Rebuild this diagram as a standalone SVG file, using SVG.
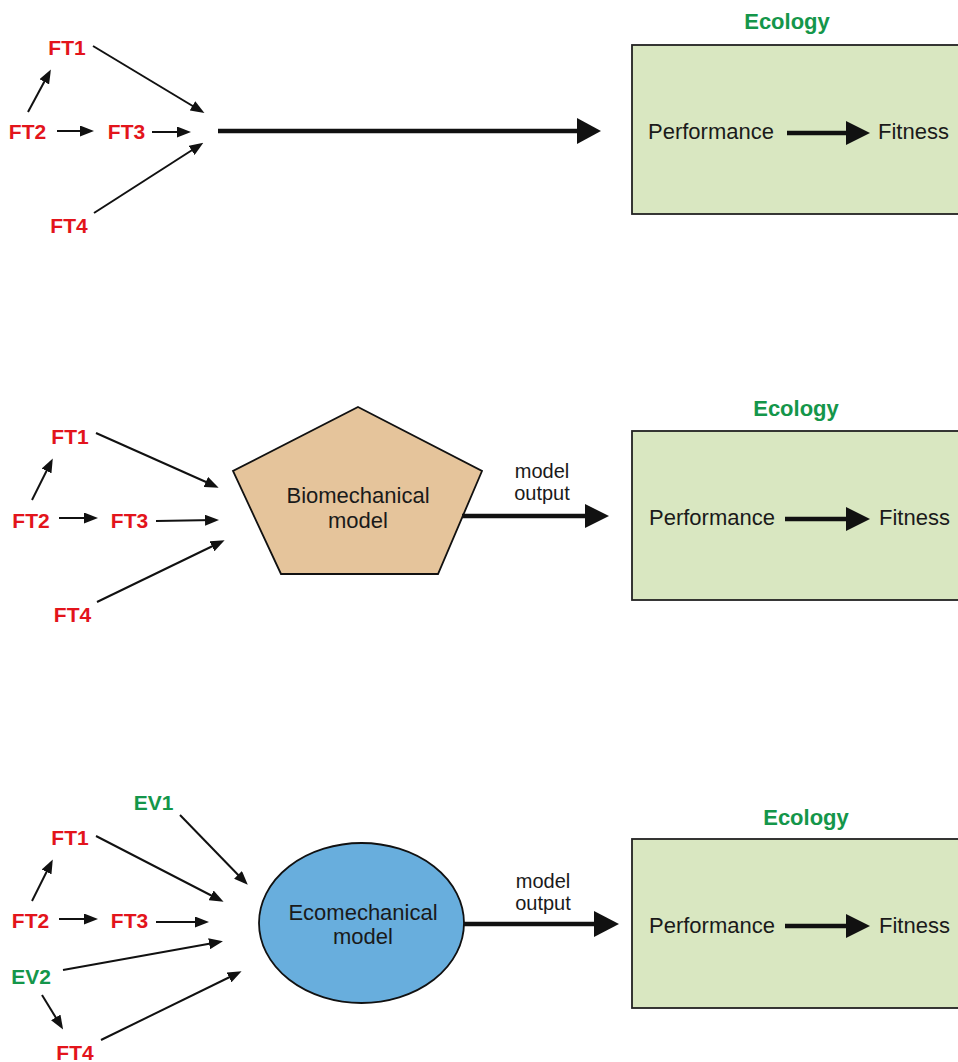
<svg xmlns="http://www.w3.org/2000/svg" width="958" height="1062" viewBox="0 0 958 1062">
<defs>
<marker id="ah" markerUnits="userSpaceOnUse" markerWidth="14" markerHeight="11" refX="10" refY="5.5" orient="auto">
<path d="M0,0 L14,5.5 L0,11 z" fill="#111"/>
</marker>
<style>
.ft{font-family:"Liberation Sans",Arial,sans-serif;font-weight:bold;font-size:21px;fill:#e3141b;text-anchor:middle}
.ev{font-family:"Liberation Sans",Arial,sans-serif;font-weight:bold;font-size:21px;fill:#14964a;text-anchor:middle}
.eco{font-family:"Liberation Sans",Arial,sans-serif;font-weight:bold;font-size:22px;fill:#14964a;text-anchor:middle}
.t{font-family:"Liberation Sans",Arial,sans-serif;font-size:22px;fill:#1a1a1a}
.tm{font-family:"Liberation Sans",Arial,sans-serif;font-size:22px;fill:#1a1a1a;text-anchor:middle}
.lab{font-family:"Liberation Sans",Arial,sans-serif;font-size:20px;fill:#1a1a1a;text-anchor:middle}
.sa{stroke:#111;stroke-width:2;fill:none;marker-end:url(#ah)}
.big{stroke:#111;stroke-width:4.5;fill:none}
.head{fill:#111}
.box{fill:#d9e7c1;stroke:#222;stroke-width:1.8}
</style>
</defs>

<!-- Panel 1 nodes -->
<g id="p1-ft1"><text class="ft" x="67" y="55">FT1</text></g>
<g id="p1-ft2"><text class="ft" x="27.5" y="139">FT2</text></g>
<g id="p1-ft3"><text class="ft" x="126.5" y="139">FT3</text></g>
<g id="p1-ft4"><text class="ft" x="69" y="233">FT4</text></g>
<g id="p1-ecology">
<text class="eco" x="787" y="29">Ecology</text>
<rect class="box" x="632" y="45" width="340" height="169"/>
<text class="t" x="648" y="139">Performance</text>
<line class="big" x1="787" y1="133" x2="848" y2="133"/>
<polygon class="head" points="846,121 870,133 846,145"/>
<text class="t" x="878" y="139">Fitness</text>
</g>

<!-- Panel 2 nodes -->
<g id="p2-ft1"><text class="ft" x="70" y="444">FT1</text></g>
<g id="p2-ft2"><text class="ft" x="31" y="528">FT2</text></g>
<g id="p2-ft3"><text class="ft" x="129.5" y="528">FT3</text></g>
<g id="p2-ft4"><text class="ft" x="72.5" y="622">FT4</text></g>
<g id="p2-model">
<polygon points="358,407 482,471 438,574 281,574 233,471" fill="#e5c49b" stroke="#111" stroke-width="1.8"/>
<text class="tm" x="358" y="503">Biomechanical</text>
<text class="tm" x="358" y="528">model</text>
</g>
<g id="p2-ecology">
<text class="eco" x="796" y="416">Ecology</text>
<rect class="box" x="632" y="431" width="340" height="169"/>
<text class="t" x="649" y="525">Performance</text>
<line class="big" x1="785" y1="519" x2="848" y2="519"/>
<polygon class="head" points="846,507 870,519 846,531"/>
<text class="t" x="879" y="525">Fitness</text>
</g>

<!-- Panel 3 nodes -->
<g id="p3-ev1"><text class="ev" x="153.5" y="810">EV1</text></g>
<g id="p3-ft1"><text class="ft" x="70" y="845">FT1</text></g>
<g id="p3-ft2"><text class="ft" x="30.5" y="928">FT2</text></g>
<g id="p3-ft3"><text class="ft" x="129.5" y="928">FT3</text></g>
<g id="p3-ev2"><text class="ev" x="31" y="984">EV2</text></g>
<g id="p3-ft4"><text class="ft" x="75" y="1060">FT4</text></g>
<g id="p3-model">
<ellipse cx="361.5" cy="923" rx="102.5" ry="80" fill="#68aedd" stroke="#111" stroke-width="1.8"/>
<text class="tm" x="363" y="920">Ecomechanical</text>
<text class="tm" x="363" y="944">model</text>
</g>
<g id="p3-ecology">
<text class="eco" x="806" y="825">Ecology</text>
<rect class="box" x="632" y="839" width="340" height="169"/>
<text class="t" x="649" y="933">Performance</text>
<line class="big" x1="785" y1="926" x2="848" y2="926"/>
<polygon class="head" points="846,914 870,926 846,938"/>
<text class="t" x="879" y="933">Fitness</text>
</g>

<!-- Connectors -->
<g id="connectors">
<!-- panel 1 -->
<line class="sa" x1="28" y1="112" x2="49" y2="73"/>
<line class="sa" x1="57" y1="131" x2="90" y2="131"/>
<line class="sa" x1="152" y1="132" x2="187" y2="132"/>
<line class="sa" x1="93" y1="46" x2="201" y2="111"/>
<line class="sa" x1="94" y1="213" x2="200" y2="145"/>
<line class="big" x1="218" y1="131" x2="580" y2="131"/>
<polygon class="head" points="577,118 601,131 577,144"/>
<!-- panel 2 -->
<line class="sa" x1="32" y1="500" x2="51" y2="462"/>
<line class="sa" x1="59" y1="518" x2="94" y2="518"/>
<line class="sa" x1="156" y1="521" x2="215" y2="520"/>
<line class="sa" x1="96" y1="433" x2="215" y2="486"/>
<line class="sa" x1="97" y1="602" x2="221" y2="542"/>
<line class="big" x1="462" y1="516" x2="588" y2="516"/>
<polygon class="head" points="585,504 609,516 585,528"/>
<text class="lab" x="542" y="478">model</text>
<text class="lab" x="542" y="500">output</text>
<!-- panel 3 -->
<line class="sa" x1="180" y1="815" x2="245" y2="882"/>
<line class="sa" x1="96" y1="836" x2="220" y2="900"/>
<line class="sa" x1="32" y1="901" x2="51" y2="863"/>
<line class="sa" x1="59" y1="919" x2="94" y2="919"/>
<line class="sa" x1="156" y1="922" x2="205" y2="922"/>
<line class="sa" x1="63" y1="970" x2="219" y2="942"/>
<line class="sa" x1="42" y1="995" x2="61" y2="1026"/>
<line class="sa" x1="101" y1="1040" x2="238" y2="973"/>
<line class="big" x1="464" y1="924" x2="597" y2="924"/>
<polygon class="head" points="594,911 619,924 594,937"/>
<text class="lab" x="543" y="888">model</text>
<text class="lab" x="543" y="910">output</text>
</g>
</svg>
